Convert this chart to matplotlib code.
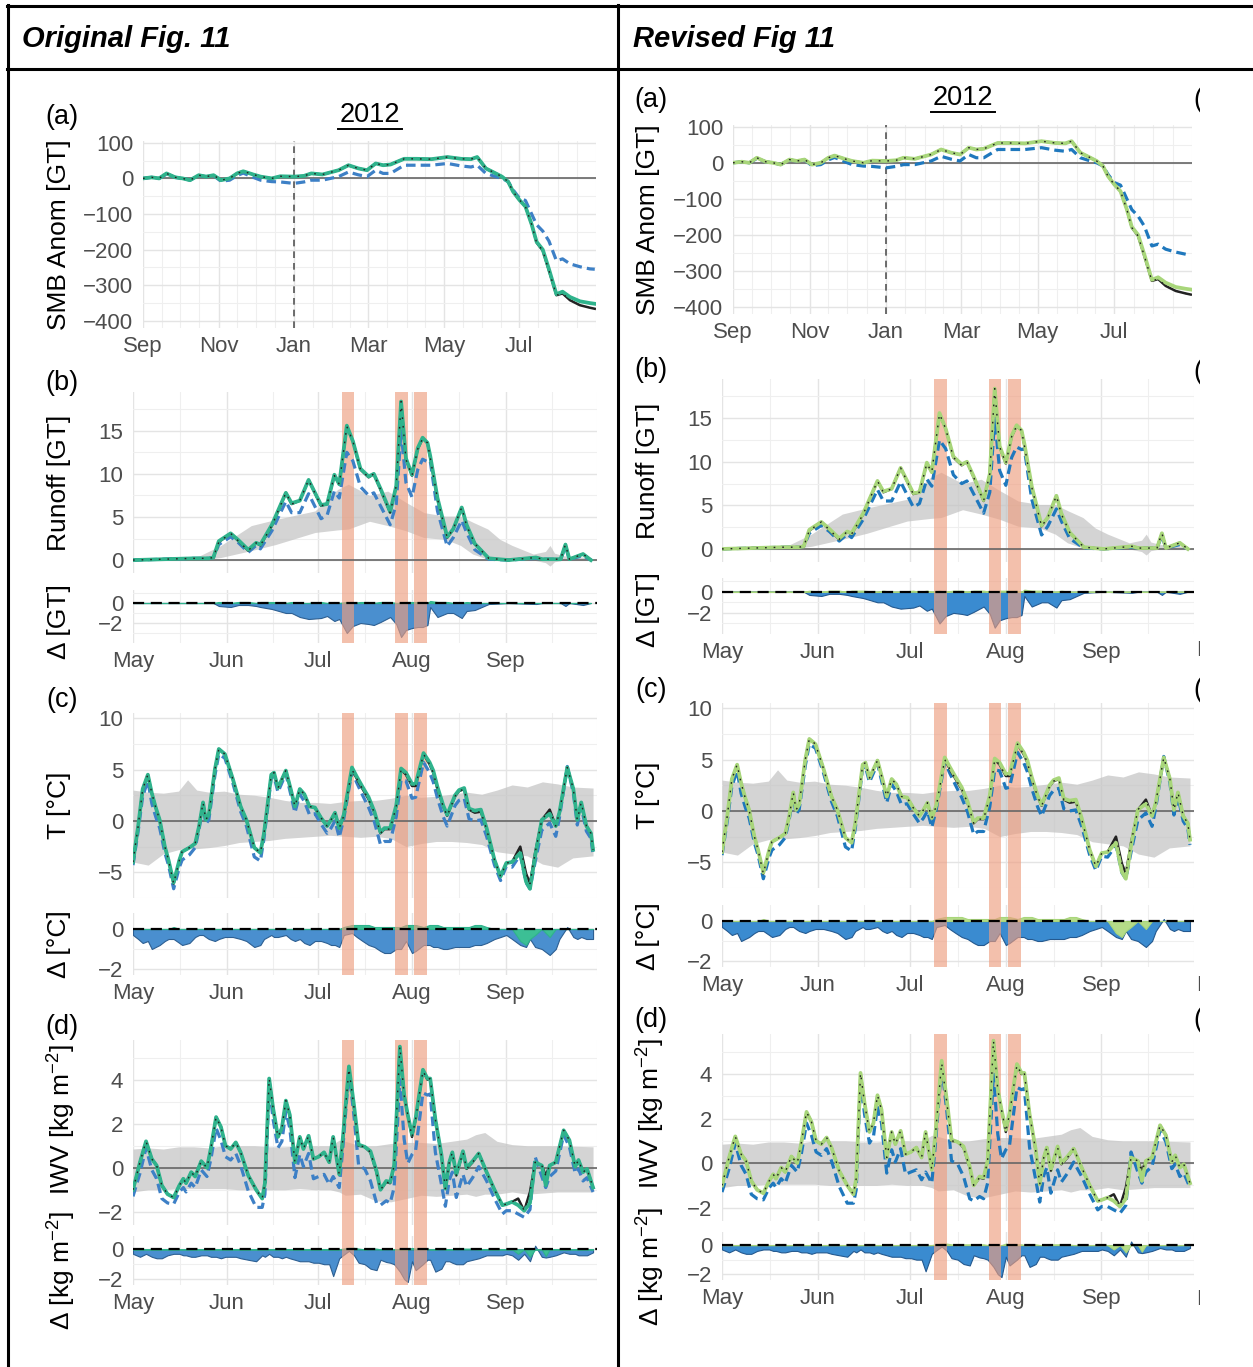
import numpy as np
import matplotlib
import matplotlib.pyplot as plt
from matplotlib.lines import Line2D
from matplotlib.patches import Rectangle

plt.rcParams["font.family"] = ["Liberation Sans", "DejaVu Sans"]
plt.rcParams["mathtext.fontset"] = "custom"
plt.rcParams["mathtext.rm"] = "Liberation Sans"
plt.rcParams["mathtext.default"] = "regular"

W, H = 1253, 1367

# ---------------- data ----------------
# (a) SMB anomaly, days from 1 Sep 2011
a_days = [0, 7, 13, 19, 26, 32, 38, 45, 51, 57, 63, 70, 76, 81, 89, 95, 104, 111, 122, 130,
          136, 145, 158, 166, 174, 181, 188, 194, 200, 211, 221, 233, 246, 257, 265, 270, 277,
          285, 290, 295, 299, 304, 309, 314, 318, 323, 328, 334, 339, 345, 353, 361, 365]
a_black = [0, 3, 0, 14, 3, 0, -5, 9, 5, 9, -5, 0, 14, 20, 11, 5, 0, 6, 5, 7,
           14, 11, 23, 37, 28, 23, 42, 37, 39, 55, 55, 54, 60, 55, 54, 60, 28,
           14, 5, -9, -37, -60, -79, -129, -180, -203, -259, -328, -323, -342, -356, -363, -366]
a_green = [0, 3, 0, 14, 3, 0, -5, 9, 5, 9, -5, 0, 14, 20, 11, 5, 0, 6, 5, 7,
           14, 11, 23, 37, 28, 23, 42, 37, 39, 55, 55, 54, 60, 55, 54, 60, 28,
           14, 5, -9, -37, -60, -79, -129, -178, -200, -255, -325, -318, -333, -345, -350, -352]
a_blue = [0, 3, 0, 12, 3, 0, -5, 8, 5, 8, -8, -5, 8, 15, 3, -5, -9, -10, -14, -10,
          -5, -5, 5, 18, 10, 5, 23, 14, 14, 37, 37, 37, 42, 35, 32, 37, 14,
          5, 0, -9, -32, -55, -62, -100, -130, -148, -176, -231, -226, -240, -248, -254, -255]

# (b) runoff, days from 1 May 2012
b_days = [0, 10, 20, 25, 26.5, 28.3, 32.2, 34.8, 38, 40.6, 42, 45.8, 50.4, 52.3, 55, 57.9, 62, 64,
          66.4, 68, 70.5, 72.5, 75, 77.7, 79.4, 81.6, 84.8, 86.8, 88.4, 90, 92, 93.9, 95.5, 97.1,
          98, 100.4, 103.6, 105.6, 108.4, 110, 112.7, 117.3, 123.8, 132.9, 135, 141, 142.6, 143.9,
          148.4, 151]
b_black = [0, 0.1, 0.2, 0.2, 0.3, 2.1, 3.1, 2.2, 1.1, 2.0, 1.7, 4.0, 7.8, 6.5, 6.9, 9.3, 6.3, 6.5,
           9.8, 8.8, 15.5, 13.8, 10.5, 9.6, 10.0, 8.2, 5.5, 8.6, 18.4, 11.7, 9.8, 12.9, 14.1, 13.6,
           11.9, 7.1, 2.6, 3.6, 6.1, 4.0, 1.9, 0.2, 0, 0.3, 0.1, 0.1, 1.8, 0.1, 0.7, 0]
b_green = [0, 0.1, 0.2, 0.2, 0.3, 2.2, 3.1, 2.3, 1.2, 2.0, 1.8, 4.1, 7.8, 6.6, 6.9, 9.3, 6.4, 6.5,
           9.9, 8.8, 15.6, 13.8, 10.6, 9.7, 10.0, 8.3, 5.6, 8.6, 18.4, 11.8, 9.9, 13.0, 14.2, 13.6,
           12.1, 7.2, 2.7, 3.6, 6.1, 4.1, 1.9, 0.2, 0, 0.3, 0.1, 0.1, 1.8, 0.1, 0.7, 0]
b_blue = [0, 0.1, 0.2, 0.2, 0.3, 1.8, 2.7, 2.0, 0.9, 1.7, 1.3, 3.4, 6.8, 5.5, 5.5, 7.7, 4.8, 5.2,
          8.0, 7.2, 12.5, 11.5, 8.5, 7.5, 7.8, 6.3, 4.1, 6.5, 15.0, 9.0, 7.3, 10.5, 11.7, 11.4,
          11.5, 5.7, 1.6, 2.6, 4.6, 3.2, 1.2, 0.1, 0, 0.2, 0.1, 0.1, 1.5, 0.1, 0.5, 0]
rb_days = [0, 15, 22, 29, 39, 47, 60, 67.5, 71, 78, 84, 90, 96, 103, 108, 112, 117, 121, 125, 132,
           136, 137.5, 139, 142, 146, 151]
rb_upper = [0, 0.1, 0.5, 1.7, 4.0, 4.7, 5.7, 8.2, 8.8, 7.5, 8.0, 6.7, 5.5, 5.1, 5.1, 4.4, 3.6, 2.4,
            1.7, 0.7, 1.0, 1.7, 0.8, 0.5, 0.4, 0.3]
rb_lower = [0, 0, 0, 0.3, 1.1, 1.8, 3.2, 3.5, 3.6, 4.5, 4.0, 3.4, 2.6, 2.4, 1.7, 0.7, 0.1, 0,
            0, 0, -0.3, -0.7, -0.2, 0, 0, 0]

# (c) temperature anomaly
c_days = [0, 1.7, 3.2, 4.9, 6.2, 7.5, 8.8, 10.5, 11.7, 13.4, 15.3, 16.2, 18.6, 20.5, 21.8, 23.1,
          24, 25, 27, 28.3, 30.3, 32.9, 35.5, 37.4, 40, 42, 43.2, 45.6, 46.5, 47.8, 50.4, 52,
          53.4, 55, 56.5, 58.2, 60, 62, 64, 65.3, 66.6, 68, 69.5, 72.2, 73.8, 75.7, 77.7, 79.6,
          81.6, 82.9, 84.8, 86.8, 88.4, 90, 92, 93.2, 95.8, 97.8, 99, 100.4, 102.3, 103.6, 106.2,
          107.5, 109.2, 110.8, 112.7, 114.7, 116.6, 119.2, 121.2, 123.1, 125, 127.7, 129.6,
          130.9, 132.6, 134.8, 137.4, 139.4, 140.6, 143.2, 145.2, 146.5, 147.8, 149.5, 151, 151.7]
c_black = [-4.0, -0.5, 3.1, 4.5, 2.7, 1.3, 0.1, -2.5, -3.8, -6.1, -3.8, -3.0, -2.6, -2.2, -0.5,
           1.8, 0.1, 0.6, 5.0, 7.0, 6.5, 4.1, 1.4, 0.1, -2.6, -3.1, -1.2, 4.5, 4.7, 3.2, 4.9, 3.1,
           1.4, 3.1, 2.6, 1.4, 1.3, 0.3, -0.5, 0.1, 0.8, -0.7, 0.5, 5.0, 4.1, 3.1, 2.1, 0.8,
           -1.2, -0.8, -0.8, 1.4, 5.0, 4.5, 3.4, 3.4, 6.5, 5.5, 4.7, 3.1, 1.4, 0.5, 2.4,
           2.9, 3.1, 1.1, 0.8, 0.9, -0.8, -3.8, -5.4, -4.1, -4.0, -2.5, -5.1,
           -6.1, -3.1, 0.1, 1.1, -0.5, 0.8, 5.2, 3.1, 0.1, 1.8, -0.5, -1.2, -2.8]
c_green = [-4.0, -0.5, 3.1, 4.5, 2.7, 1.3, 0.1, -2.5, -3.8, -6.0, -3.8, -3.0, -2.6, -2.2, -0.5,
           1.8, 0.1, 0.6, 5.0, 7.0, 6.5, 4.1, 1.4, 0.1, -2.6, -3.1, -1.2, 4.5, 4.7, 3.2, 4.9, 3.1,
           1.4, 3.1, 2.6, 1.4, 1.3, 0.3, -0.5, 0.1, 0.8, -0.7, 0.6, 5.2, 4.3, 3.3, 2.3, 0.9,
           -1.1, -0.7, -0.7, 1.5, 5.1, 4.7, 3.6, 3.6, 6.6, 5.7, 4.9, 3.3, 1.5, 0.6, 2.5,
           3.0, 3.2, 1.2, 1.0, 1.1, -0.7, -3.8, -5.4, -4.1, -4.0, -3.1, -5.9,
           -6.6, -3.4, 0.1, 0.7, -0.5, 0.8, 5.2, 3.1, 0.1, 1.8, -0.5, -1.2, -2.8]
c_blue = [-4.3, -1.0, 2.4, 3.9, 1.7, 0.4, -0.7, -3.1, -4.3, -6.6, -4.5, -3.8, -3.3, -2.6, -0.8,
          1.5, -0.3, 0.1, 4.4, 6.5, 6.1, 3.7, 0.9, -0.5, -3.5, -3.9, -1.7, 4.2, 4.3, 2.8, 4.6, 2.6,
          0.8, 2.6, 1.9, 0.6, 0.7, -0.3, -1.2, -0.7, 0.0, -1.6, 0.2, 4.8, 3.7, 2.5, 1.3, -0.1,
          -2.3, -2.0, -2.0, 0.4, 4.0, 3.9, 2.2, 2.3, 5.7, 4.7, 3.8, 2.2, 0.4, -0.5, 1.5,
          2.0, 2.2, 0.2, 0.0, 0.1, -1.5, -4.3, -5.8, -4.4, -4.5, -3.3, -6.0,
          -6.6, -4.0, -0.9, -0.2, -1.5, 0.3, 5.3, 2.7, -0.4, 1.4, -1.0, -1.7, -3.3]
rc_days = [0, 5, 10, 15, 18, 21, 25, 30, 35, 40, 45, 50, 55, 60, 65, 70, 75, 80, 85, 90,
           95, 100, 105, 110, 115, 120, 125, 130, 135, 140, 145, 151.7]
rc_upper = [3.0, 2.8, 2.7, 2.9, 4.0, 3.0, 2.8, 2.9, 2.6, 2.5, 2.3, 2.0, 1.8, 1.8, 1.7, 1.9, 2.0,
            2.0, 2.2, 2.5, 2.3, 2.4, 2.6, 2.8, 2.6, 3.0, 3.5, 3.3, 3.8, 3.6, 3.3, 3.2]
rc_lower = [-4.0, -4.3, -3.2, -2.8, -2.6, -2.7, -2.6, -2.4, -2.1, -2.0, -1.9, -1.7, -1.6, -1.5,
            -1.4, -1.5, -1.6, -1.5, -1.7, -2.5, -2.2, -2.0, -2.0, -2.1, -2.3, -3.0, -3.2, -3.4,
            -4.2, -4.5, -3.6, -3.4]

# (d) integrated water vapour anomaly
d_days = [0, 2.3, 4.3, 6.2, 7.8, 9.5, 11.4, 13.4, 15.3, 16.6, 17.5, 19.2, 20.5, 22.5, 24.4, 25.7,
          27.4, 29, 30.5, 32.2, 33.9, 35.5, 38, 40.6, 42.6, 43.5, 44.9, 46.2, 47.8, 49.1, 50.4,
          51.7, 53.4, 55, 56.2, 57.9, 59.5, 61.2, 63, 64.7, 66, 68, 69.2, 71.2, 72.9, 74.4, 76.4,
          78.3, 80.3, 81.6, 83.5, 84.8, 86.1, 88, 89.4, 90.6, 92, 93.2, 95.6, 97.1, 98, 99.7,
          101.7, 103, 104.3, 105.3, 106.6, 108.8, 110, 112, 114, 116.6, 119.2, 121.8, 123.1, 125,
          127, 129, 130.9, 132.6, 134.8, 136.1, 137.4, 139.4, 142, 143.9, 145.8, 146.9, 148.4,
          149.7, 151.7]
d_black = [-1.0, 0.25, 1.2, 0.4, 0.1, -0.8, -1.2, -1.35, -0.8, -0.5, -0.7, -0.2, -0.4, 0.3, 0.0,
           0.9, 2.3, 1.85, 1.0, 0.85, 1.15, 0.7, -0.35, -1.0, -1.4, -0.7, 4.05, 2.7, 1.4, 1.8,
           3.05, 2.4, 0.25, 1.4, 0.85, 1.45, 0.4, 0.5, 0.7, 0.25, 1.4, -0.3, 1.3, 4.5, 2.7, 1.0,
           0.95, 0.7, -0.2, -1.0, -0.65, -0.7, 0.1, 5.5, 3.3, 2.4, 1.4, 2.2, 4.4, 4.0, 4.05, 2.2,
           0.55, -0.95, 0.25, 0.7, -0.35, 0.7, -0.05, 0.25, 0.65, -0.2, -1.0, -1.7, -1.65, -1.55,
           -1.4, -1.95, -1.1, 0.25, 0.1, -0.35, 0.1, 0.25, 1.7, 1.25, 0.05, 0.35, -0.2, -0.05, -0.9]
d_green = [-1.0, 0.25, 1.2, 0.4, 0.1, -0.8, -1.2, -1.35, -0.8, -0.5, -0.7, -0.2, -0.4, 0.3, 0.0,
           0.9, 2.3, 1.85, 1.0, 0.85, 1.15, 0.7, -0.35, -1.0, -1.4, -0.7, 4.05, 2.7, 1.4, 1.8,
           3.05, 2.4, 0.25, 1.4, 0.85, 1.45, 0.4, 0.5, 0.7, 0.25, 1.4, -0.3, 1.35, 4.6, 2.8, 1.05,
           0.95, 0.75, -0.15, -1.0, -0.6, -0.65, 0.1, 5.5, 3.3, 2.4, 1.5, 2.25, 4.45, 4.05, 4.05, 2.2,
           0.6, -0.95, 0.25, 0.7, -0.3, 0.75, 0.0, 0.3, 0.65, -0.2, -1.0, -1.7, -1.65, -1.55,
           -1.7, -1.95, -1.6, 0.25, 0.1, -0.8, 0.1, 0.25, 1.7, 1.25, 0.05, 0.35, -0.2, -0.05, -0.9]
d_blue = [-1.3, -0.25, 0.9, -0.1, -0.5, -1.4, -1.6, -1.65, -1.1, -0.9, -1.1, -0.7, -0.9, -0.1, -0.4,
          0.4, 1.8, 1.25, 0.5, 0.35, 0.65, 0.1, -1.05, -1.8, -1.8, -1.2, 3.75, 2.2, 0.9, 1.2,
          2.55, 1.8, -0.45, 0.6, 0.05, 0.65, -0.5, -0.4, -0.3, -0.75, -0.4, -0.9, 0.9, 4.4, 2.3, 0.1,
          -0.05, -0.6, -1.6, -1.7, -1.5, -1.6, -0.9, 4.0, 1.3, 0.2, 0.6, 0.8, 3.4, 3.3, 3.35, 0.7,
          -0.75, -1.75, -0.55, -0.2, -1.35, -0.3, -0.85, -0.45, 0.05, -0.6, -1.4, -2.1, -1.95, -1.95,
          -2.1, -2.25, -1.9, 0.5, -0.4, -0.9, -0.4, -0.15, 1.5, 0.95, -0.25, -0.05, -0.6, -0.45, -1.1]
rd_days = [0, 5, 10, 15, 20, 25, 30, 35, 40, 45, 50, 55, 60, 65, 68, 70, 75, 80, 85, 90,
           95, 100, 105, 110, 113, 116, 120, 125, 130, 135, 140, 151.7]
rd_upper = [0.85, 0.9, 0.85, 0.95, 0.95, 0.9, 1.0, 1.0, 1.0, 0.95, 0.95, 1.0, 1.0, 1.0, 1.25, 1.2,
            1.0, 1.0, 1.1, 1.15, 1.15, 1.1, 1.2, 1.3, 1.5, 1.6, 1.2, 1.05, 1.0, 1.0, 1.0, 0.95]
rd_lower = [-1.1, -1.0, -1.0, -0.95, -0.95, -0.95, -0.95, -1.0, -1.0, -1.0, -1.0, -0.95, -1.0, -1.0,
            -1.1, -1.25, -1.2, -1.5, -1.55, -1.4, -1.25, -1.3, -1.25, -1.2, -1.3, -1.2, -1.2, -1.1,
            -1.2, -1.15, -1.1, -1.1]

# highlighted events (days from 1 May)
band_start = [68.8, 86.4, 92.8]
band_end = [73.0, 90.6, 97.0]

# axis ticks
a_month_days = [0, 30, 61, 91, 122, 153, 182, 213, 243, 274, 304, 335, 366]
a_tick_days = [0, 61, 122, 182, 243, 304]
a_tick_labels = ["Sep", "Nov", "Jan", "Mar", "May", "Jul"]
s_month_days = [0, 31, 61, 92, 123, 153]
s_tick_labels = ["May", "Jun", "Jul", "Aug", "Sep"]

TICK_FS = 16
LAB_FS = 19
PANEL_FS = 19.5
TICK_C = "#4d4d4d"


def px_axes(fig, rect):
    l, t, r, b = rect
    return fig.add_axes([l / W, 1 - b / H, (r - l) / W, (b - t) / H])


def style(ax, xlim, ylim, xmaj, xmin, ymaj, ymin, xlabels=None):
    ax.set_xlim(*xlim)
    ax.set_ylim(*ylim)
    ax.set_xticks(xmaj)
    ax.set_xticks(xmin, minor=True)
    ax.set_yticks(ymaj)
    ax.set_yticks(ymin, minor=True)
    ax.grid(which="major", color="#e4e4e4", lw=1.0)
    ax.grid(which="minor", color="#efefef", lw=0.8)
    ax.set_axisbelow(True)
    ax.tick_params(which="both", length=0, labelsize=TICK_FS, colors=TICK_C)
    ax.tick_params(axis="y", pad=7)
    ax.tick_params(axis="x", pad=6)
    if xlabels is None:
        ax.set_xticklabels([])
    else:
        ax.set_xticklabels(xlabels)
    ax.set_yticklabels([("\u2212" + str(-v)) if v < 0 else str(v) for v in ymaj])
    for s in ax.spines.values():
        s.set_visible(False)


def half_months(starts):
    return [(starts[i] + starts[i + 1]) / 2 for i in range(len(starts) - 1)]


def ylab(fig, x, rect, text, yc=None):
    if yc is None:
        yc = (rect[1] + rect[3]) / 2
    fig.text(x / W, 1 - yc / H, text, rotation=90, ha="center", va="center",
             fontsize=LAB_FS, color="black")


def draw_lines(ax, days, black, green, blue, col):
    ax.plot(days, blue, color=col["blue"], lw=2.3, ls=(0, (3, 1.6)), zorder=3)
    ax.plot(days, black, color="#222222", lw=1.8, zorder=3.5)
    ax.plot(days, green, color=col["green"], lw=2.7, zorder=4)
    ax.plot(days, black, color="#222222", lw=1.0, ls=(0, (1.2, 5)), zorder=4.5)


def season_panel(fig, rect_m, rect_d, days, black, green, blue, rdays, rlow, rup,
                 ylim_m, ymaj_m, ymin_m, ylim_d, ymaj_d, ymin_d, col):
    xlim = (0, col["xmax"])
    xmin = [m for m in s_month_days[1:]] + half_months(s_month_days)
    ax = px_axes(fig, rect_m)
    style(ax, xlim, ylim_m, s_month_days[:5], xmin, ymaj_m, ymin_m)
    ax.fill_between(rdays, rlow, rup, color="#c2c2c2", alpha=0.7, lw=0, zorder=1)
    gap = (rect_d[1] - rect_m[3]) / (rect_m[3] - rect_m[1])
    for s, e in zip(band_start, band_end):
        ax.axvspan(s, e, ymin=-gap, ymax=1, color="#ee9e80", alpha=0.65, lw=0,
                   zorder=1.5, clip_on=False)
    ax.axhline(0, color="#666666", lw=1.2, zorder=2)
    draw_lines(ax, days, black, green, blue, col)

    axd = px_axes(fig, rect_d)
    style(axd, xlim, ylim_d, s_month_days[:5], xmin, ymaj_d, ymin_d, s_tick_labels)
    dblue = np.array(blue) - np.array(black)
    dgreen = np.array(green) - np.array(black)
    axd.fill_between(days, 0, dblue, facecolor=col["bluefill"], edgecolor=col["blueedge"],
                     lw=0.8, zorder=2)
    axd.fill_between(days, 0, dgreen, facecolor=col["greenfill"], edgecolor=col["green"],
                     lw=0.8, zorder=2.5)
    for s, e in zip(band_start, band_end):
        axd.axvspan(s, e, color="#ee9e80", alpha=0.65, lw=0, zorder=3)
    axd.axhline(0, color="black", lw=1.6, ls=(0, (5, 3)), zorder=4)
    return ax, axd


def column(fig, L, col):
    # (a)
    ax = px_axes(fig, L["a"])
    style(ax, (0, 365), (-420, 105), a_tick_days,
          [m for m in a_month_days if m not in a_tick_days] + half_months(a_month_days),
          [100, 0, -100, -200, -300, -400], [50, -50, -150, -250, -350], a_tick_labels)
    ax.axhline(0, color="#666666", lw=1.2, zorder=2)
    ax.axvline(122, color="#555555", lw=1.2, ls=(0, (4, 3)), zorder=2)
    draw_lines(ax, a_days, a_black, a_green, a_blue, col)
    ylab(fig, L["ylx"], L["a"], "SMB Anom [GT]")

    season_panel(fig, L["b"], L["bd"], b_days, b_black, b_green, b_blue,
                 rb_days, rb_lower, rb_upper, (-1.5, 19.5), [0, 5, 10, 15],
                 [2.5, 7.5, 12.5, 17.5], (-4, 1.3), [0, -2], [1, -1, -3], col)
    ylab(fig, L["ylx"], L["b"], "Runoff [GT]")
    ylab(fig, L["ylx"], L["bd"], "\u0394 [GT]", L["bd"][1] + 32)

    season_panel(fig, L["c"], L["cd"], c_days, c_black, c_green, c_blue,
                 rc_days, rc_lower, rc_upper, (-7.5, 10.5), [10, 5, 0, -5],
                 [7.5, 2.5, -2.5, -7.5], (-2.3, 0.8), [0, -2], [-1], col)
    ylab(fig, L["ylx"], L["c"], "T [\u00b0C]")
    ylab(fig, L["ylx"], L["cd"], "\u0394 [\u00b0C]")

    season_panel(fig, L["d"], L["dd"], d_days, d_black, d_green, d_blue,
                 rd_days, rd_lower, rd_upper, (-2.6, 5.8), [4, 2, 0, -2],
                 [5, 3, 1, -1], (-2.4, 0.9), [0, -2], [-1], col)
    ylab(fig, L["ylx"] + 3, L["d"], "IWV [kg m$^{-2}$]", L["d"][1] + 79)
    ylab(fig, L["ylx"] + 3, L["dd"], "\u0394 [kg m$^{-2}$]", L["dd"][1] + 35)

    for key, lab in zip(["la", "lb", "lc", "ld"], ["(a)", "(b)", "(c)", "(d)"]):
        x, y = L[key]
        fig.text(x / W, 1 - y / H, lab, ha="center", va="center", fontsize=PANEL_FS)
    x, y = L["yr"]
    fig.text(x / W, 1 - y / H, "2012", ha="center", va="center", fontsize=PANEL_FS)
    fig.add_artist(Line2D([(x - 32) / W, (x + 32) / W], [1 - (y + 14) / H] * 2,
                          transform=fig.transFigure, color="black", lw=1.4))


fig = plt.figure(figsize=(W / 100, H / 100), dpi=100)

orig = dict(a=(143, 141, 596, 328), b=(133, 392, 597, 573), bd=(133, 590, 597, 643),
            c=(133, 713, 597, 898), cd=(133, 913, 597, 975),
            d=(133, 1040, 597, 1225), dd=(133, 1236, 597, 1285),
            ylx=59, la=(62, 117), lb=(62, 383), lc=(62, 700), ld=(62, 1027), yr=(370, 115))
rev = dict(a=(733, 125, 1192, 314), b=(722, 379, 1194, 562), bd=(722, 578, 1194, 634),
           c=(722, 703, 1194, 888), cd=(722, 905, 1194, 967),
           d=(722, 1034, 1194, 1221), dd=(722, 1232, 1194, 1280),
           ylx=648, la=(651, 100), lb=(651, 370), lc=(651, 690), ld=(651, 1020), yr=(963, 98))

col_orig = dict(green="#2fb38c", greenfill="#3cbf95", blue="#3d80c6", bluefill="#4a8fcf",
                blueedge="#2d5f92", xmax=151)
col_rev = dict(green="#a8d67a", greenfill="#b5dc88", blue="#1f78bd", bluefill="#3a8bd0",
               blueedge="#24598f", xmax=152)

column(fig, orig, col_orig)
column(fig, rev, col_rev)

# start of the next (cropped) column in the revised figure
for y in [100, 372, 690, 1020]:
    fig.text(1193 / W, 1 - y / H, "(e)", ha="left", va="center", fontsize=PANEL_FS)
for y in [651, 985, 1299]:
    fig.text(1196 / W, 1 - y / H, "May", ha="left", va="center", fontsize=TICK_FS, color=TICK_C)
fig.add_artist(Rectangle((1200 / W, 0), 60 / W, 1 - 72 / H, transform=fig.transFigure,
                         facecolor="white", edgecolor="none", zorder=20))


# table frame and headers
def hline(y, x0, x1):
    fig.add_artist(Line2D([x0 / W, x1 / W], [1 - y / H] * 2, transform=fig.transFigure,
                          color="black", lw=2.2, zorder=30))


def vline(x, y0, y1):
    fig.add_artist(Line2D([x / W] * 2, [1 - y0 / H, 1 - y1 / H], transform=fig.transFigure,
                          color="black", lw=2.2, zorder=30))


hline(6, 7, W)
hline(69, 7, W)
vline(8, 5, H)
vline(618, 5, H)
fig.text(22 / W, 1 - 39 / H, "Original Fig. 11", fontsize=21, fontweight="bold",
         fontstyle="italic", ha="left", va="center")
fig.text(633 / W, 1 - 39 / H, "Revised Fig 11", fontsize=21, fontweight="bold",
         fontstyle="italic", ha="left", va="center")

fig.savefig("out.png", dpi=100)
